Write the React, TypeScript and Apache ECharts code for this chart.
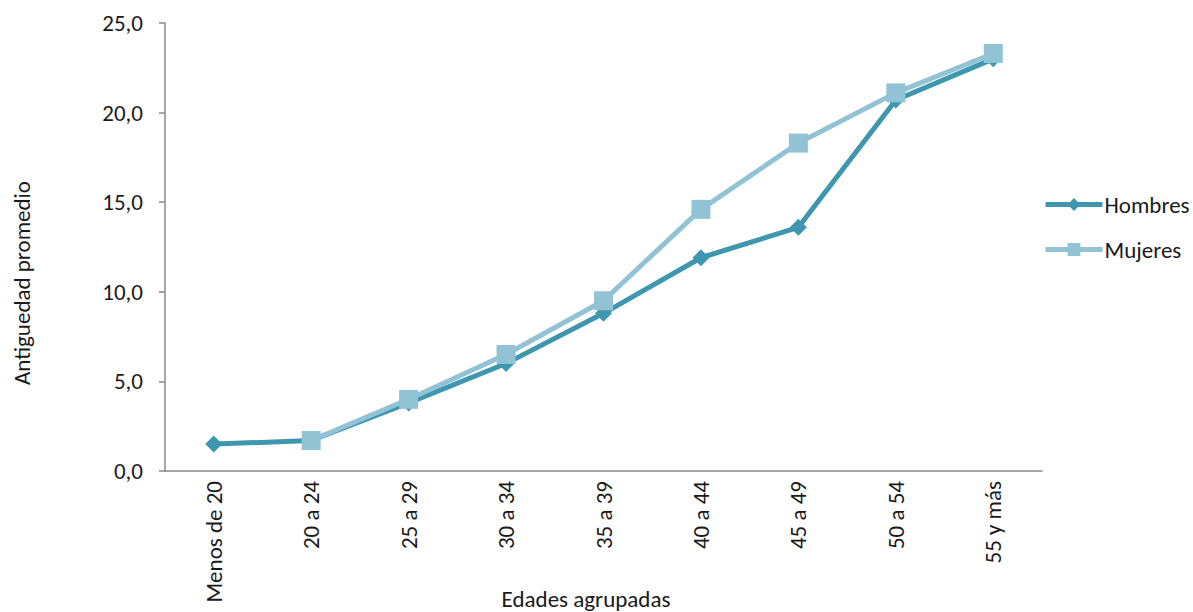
import React, { useEffect, useRef } from "react";
import * as echarts from "echarts";

const categories = ["Menos de 20", "20 a 24", "25 a 29", "30 a 34", "35 a 39", "40 a 44", "45 a 49", "50 a 54", "55 y más"];
const hombres = [1.5, 1.7, 3.8, 6.0, 8.8, 11.9, 13.6, 20.7, 23.0];
const mujeres = [null, 1.7, 4.0, 6.5, 9.5, 14.6, 18.3, 21.1, 23.3];
const yTicks = { min: 0, max: 25, interval: 5 };

const FONT = "Carlito, Lato, sans-serif";
const FS = 23;

export default function App() {
  const ref = useRef<HTMLDivElement>(null);
  useEffect(() => {
    const chart = echarts.init(ref.current!, null, { renderer: "svg" });
    chart.setOption({
      animation: false,
      textStyle: { fontFamily: FONT },
      grid: { left: 165, right: 151, top: 23, bottom: 141, outerBoundsMode: "none", containLabel: false },
      legend: {
        orient: "vertical",
        left: 1043,
        top: 193,
        padding: 0,
        itemWidth: 57,
        itemHeight: 16,
        itemGap: 22,
        lineStyle: { width: 5 },
        textStyle: { fontSize: FS, lineHeight: 22, color: "#1a1a1a", fontFamily: FONT, padding: [0, 0, 0, -3] },
        data: ["Hombres", "Mujeres"],
      },
      xAxis: {
        type: "category",
        data: categories,
        boundaryGap: true,
        name: "Edades agrupadas",
        nameLocation: "middle",
        nameGap: 116,
        nameMoveOverlap: false,
        nameTextStyle: { fontSize: FS, lineHeight: 23, color: "#1a1a1a", fontFamily: FONT, padding: [0, 35, 0, 0] },
        axisLine: { lineStyle: { color: "#898989", width: 1.5 } },
        axisTick: { show: false },
        axisLabel: { rotate: 90, fontSize: FS, color: "#1a1a1a", margin: 10, fontFamily: FONT },
      },
      yAxis: {
        type: "value",
        min: yTicks.min,
        max: yTicks.max,
        interval: yTicks.interval,
        name: "Antiguedad promedio",
        nameLocation: "middle",
        nameGap: 132,
        nameMoveOverlap: false,
        nameRotate: 90,
        nameTextStyle: { fontSize: FS, lineHeight: 23, color: "#1a1a1a", fontFamily: FONT, padding: [0, 72, 0, 0] },
        splitLine: { show: false },
        axisLine: { show: true, lineStyle: { color: "#898989", width: 1.5 } },
        axisTick: { show: true, length: 6, lineStyle: { color: "#898989", width: 1.5 } },
        axisLabel: {
          fontSize: FS,
          color: "#1a1a1a",
          margin: 22,
          fontFamily: FONT,
          formatter: (v: number) => v.toFixed(1).replace(".", ","),
        },
      },
      series: [
        {
          name: "Hombres",
          type: "line",
          data: hombres,
          symbol: "diamond",
          symbolSize: 17,
          lineStyle: { color: "#3E97AE", width: 5 },
          itemStyle: { color: "#3E97AE" },
          z: 2,
        },
        {
          name: "Mujeres",
          type: "line",
          data: mujeres,
          symbol: "rect",
          symbolSize: 19,
          lineStyle: { color: "#92C3D5", width: 5 },
          itemStyle: { color: "#92C3D5" },
          z: 3,
        },
      ],
    });
    return () => chart.dispose();
  }, []);
  return <div ref={ref} style={{ width: 1193, height: 612, position: "absolute", left: 0, top: 0 }} />;
}
